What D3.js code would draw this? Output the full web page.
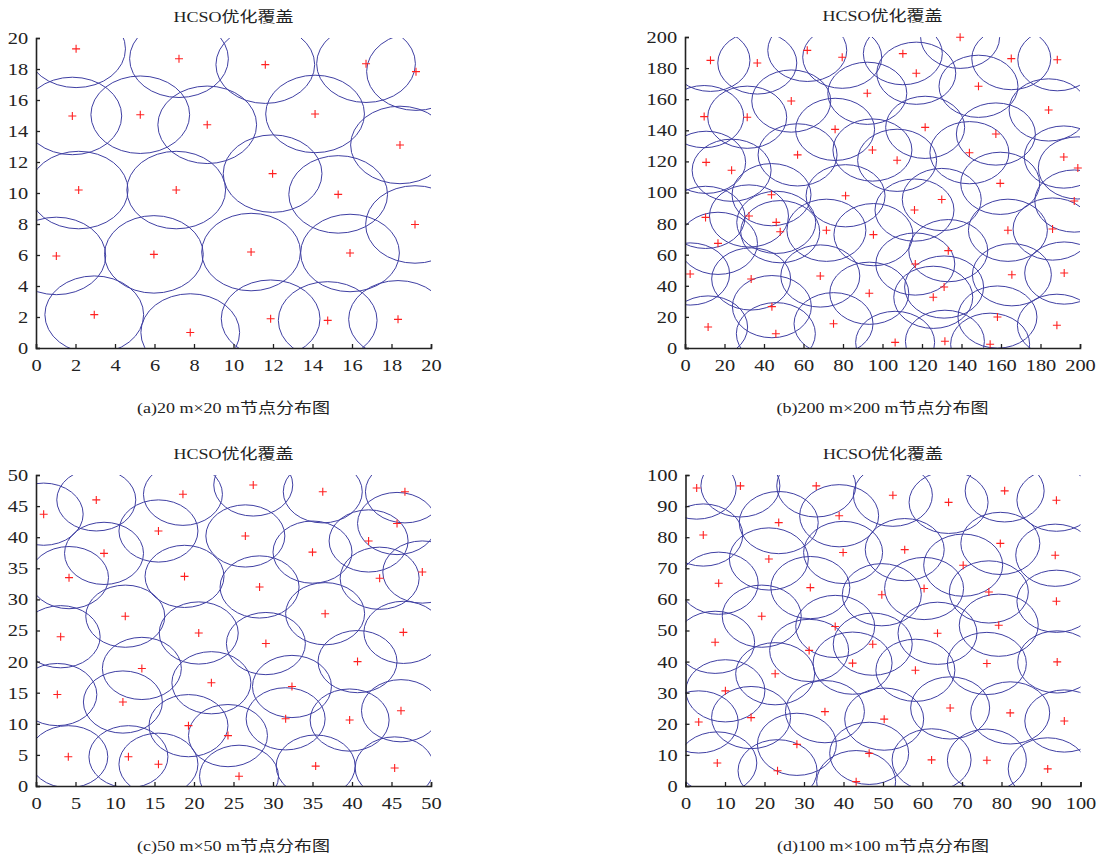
<!DOCTYPE html>
<html>
<head>
<meta charset="utf-8">
<script src="https://cdn.jsdelivr.net/npm/d3@7"></script>
<style>
  body { margin: 0; background: #fff; }
  svg text { font-family: "Liberation Serif", "Noto Sans CJK SC", serif; fill: #222; }
</style>
</head>
<body>
<svg id="chart" width="1106" height="863"></svg>
<script>
// node positions, one pair of arrays per panel
var aX = [2.03,7.24,11.61,16.71,19.24,1.84,5.28,8.67,14.13,18.43,2.16,7.1,11.98,15.3,19.19,1.03,5.97,10.89,15.9,2.95,7.81,11.88,14.77,18.33];
var aY = [19.3,18.66,18.28,18.34,17.83,14.97,15.05,14.4,15.1,13.1,10.19,10.19,11.25,9.91,7.97,5.94,6.04,6.19,6.13,2.15,1.0,1.89,1.78,1.85];

var bX = [12.9,36.6,61.9,79.6,92.3,53.8,9.7,31.5,76,94.9,57,10.7,23.6,43.8,81.3,
          139.3,110.3,117.1,165.2,188.5,148.6,184.1,121.6,157.4,144,107.4,191.8,198.9,159.6,130,
          10.4,32.4,46.2,48.2,16.7,71.6,95.4,2.6,33.5,68.5,93.3,44,11.7,75.2,46,
          116.2,197.1,163.5,186.1,133.3,116.6,165.5,192,131.2,125.7,158.2,188.3,106.4,131.6,154.5];
var bY = [185,183.3,191.4,187,163.8,158.8,148.8,148.4,140.6,127.3,124.2,119.4,114.3,98.6,97.9,
          199.8,189.3,176.7,186.1,185.4,168.3,153.1,141.9,137.6,125.6,120.7,122.8,115.8,105.9,95.5,
          84,84.9,80.8,74.8,67.3,75.7,72.9,47.6,44.4,46.3,35.2,26.6,13.5,15.6,9.2,
          88.7,94.5,75.7,76.5,62.6,54,47.1,48.2,39.2,32.6,19.9,14.6,3.6,4.3,2.4];

var cX = [0.97,7.63,18.6,27.5,36.3,46.7,45.7,15.5,26.5,42.1,8.61,35.0,4.18,18.8,43.5,48.9,28.3,11.3,36.6,
          3.12,20.6,29.1,46.5,13.4,22.2,40.7,32.4,2.7,11,31.6,39.7,46.2,19.3,24.3,4.09,11.7,15.5,25.7,35.4,45.4];
var cY = [43.7,46,46.9,48.4,47.3,47.3,42.2,41,40.2,39.4,37.4,37.6,33.5,33.7,33.4,34.4,32,27.3,27.7,
          24,24.6,22.9,24.7,18.9,16.6,20,16,14.7,13.5,10.8,10.6,12.1,9.7,8.1,4.7,4.7,3.5,1.56,3.2,2.9];

var dX = [2.83,13.9,33.1,52.5,66.6,80.8,93.9,38.9,23.6,4.5,79.7,55.5,39.9,93.6,21.1,70.3,8.4,31.6,60.4,49.7,76.8,93.9,19.3,79.3,37.9,
          7.5,63.8,47.4,31.3,42.3,58.2,76.3,94.1,22.7,10.1,3.34,16.6,35.3,50.3,67.0,82.2,95.9,28.2,46.5,8.05,23.3,43.2,62.3,76.3,91.7];
var dY = [95.8,96.5,96.5,93.5,91.2,94.9,91.9,86.9,84.7,80.7,78,76,75.1,74.2,73,71,65.2,63.8,63.5,61.5,62.4,59.4,54.6,51.7,51.3,
          46.2,49.1,45.6,43.6,39.5,37.2,39.4,39.9,36.1,30.6,20.6,22,23.9,21.5,25.1,23.5,20.9,13.4,10.5,7.4,4.9,1.4,8.4,8.3,5.5];

// sensing radius, axis size, ticks and captions
var radii = [2.5, 20, 5, 10];
var sides = [20, 200, 50, 100];
var tickA = d3.range(0, 21, 2);
var tickB = d3.range(0, 201, 20);
var tickC = d3.range(0, 51, 5);
var tickD = d3.range(0, 101, 10);
var titleText = "HCSO优化覆盖";
var captions = ["(a)20 m×20 m节点分布图", "(b)200 m×200 m节点分布图",
                "(c)50 m×50 m节点分布图", "(d)100 m×100 m节点分布图"];

// the picture is stretched sideways, so the text is too
var stretch = "scale(1.2,1)";

var svg = d3.select("#chart");

function drawPanel(i, xs, ys, ticks, box) {
    var xScale = d3.scaleLinear().domain([0, sides[i]]).range([box.l, box.r]),
        yScale = d3.scaleLinear().domain([0, sides[i]]).range([box.b, box.t]);

    svg.append("clipPath").attr("id", "clip" + i)
        .append("rect")
        .attr("x", box.l).attr("y", box.t)
        .attr("width", box.r - box.l).attr("height", box.b - box.t);

    var nodes = xs.map(function(d, k) { return {x: d, y: ys[k]}; });
    var rx = xScale(radii[i]) - xScale(0),
        ry = yScale(0) - yScale(radii[i]);

    svg.append("g").attr("clip-path", "url(#clip" + i + ")")
        .selectAll("ellipse").data(nodes)
        .enter().append("ellipse")
        .attr("cx", function(d) { return xScale(d.x); })
        .attr("cy", function(d) { return yScale(d.y); })
        .attr("rx", rx).attr("ry", ry)
        .attr("fill", "none")
        .attr("stroke", "#3f3fa3")
        .attr("stroke-width", 1);

    svg.append("g").selectAll("path").data(nodes)
        .enter().append("path")
        .attr("transform", function(d) { return "translate(" + xScale(d.x) + "," + yScale(d.y) + ")"; })
        .attr("d", "M-4,0H4M0,-4V4")
        .attr("stroke", "#ff2020")
        .attr("stroke-width", 1.1)
        .attr("fill", "none");

    var gx = svg.append("g").attr("transform", "translate(0," + box.b + ")")
        .call(d3.axisBottom(xScale).tickValues(ticks).tickSize(-4).tickPadding(11).tickFormat(d3.format("d")));
    var gy = svg.append("g").attr("transform", "translate(" + box.l + ",0)")
        .call(d3.axisLeft(yScale).tickValues(ticks).tickSize(-4).tickPadding(6.5).tickFormat(d3.format("d")));
    [gx, gy].forEach(function(g) {
        g.select(".domain").attr("stroke", "#222").attr("stroke-width", 1.6);
        g.selectAll(".tick line").attr("stroke", "#222").attr("stroke-width", 1.3);
        g.selectAll(".tick text").attr("font-size", 17).attr("fill", "#222")
            .attr("font-family", "Liberation Serif, serif")
            .attr("transform", stretch);
    });

    var cx = (box.l + box.r) / 2;
    svg.append("text")
        .attr("transform", "translate(" + cx + "," + (box.t - 16) + ") " + stretch)
        .attr("text-anchor", "middle").attr("font-size", 15).text(titleText);
    svg.append("text")
        .attr("transform", "translate(" + cx + "," + (box.b + 65) + ") " + stretch)
        .attr("text-anchor", "middle").attr("font-size", 15).text(captions[i]);
}

drawPanel(0, aX, aY, tickA, {l: 36, r: 431, t: 38, b: 348});
drawPanel(1, bX, bY, tickB, {l: 685, r: 1080, t: 37, b: 348});
drawPanel(2, cX, cY, tickC, {l: 36, r: 431, t: 475, b: 786});
drawPanel(3, dX, dY, tickD, {l: 685.5, r: 1080.5, t: 475, b: 786});
</script>
</body>
</html>
